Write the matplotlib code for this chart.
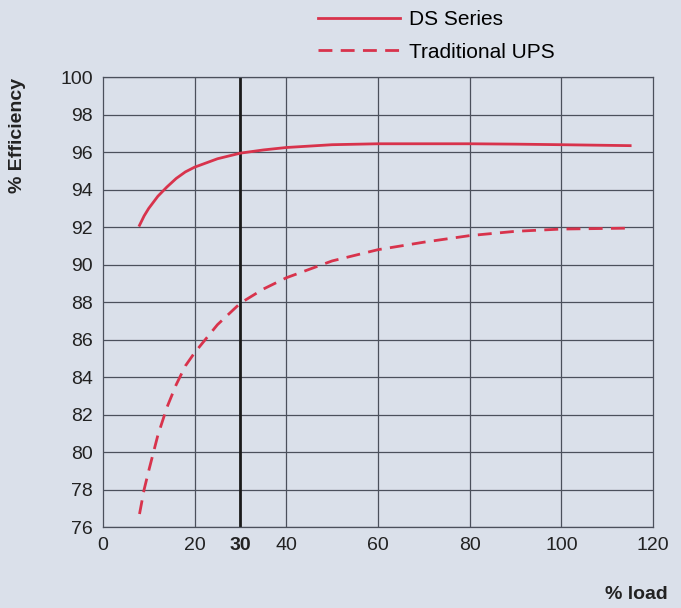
import matplotlib.pyplot as plt
from matplotlib.lines import Line2D

# data
load = [8, 9, 10, 12, 14, 16, 18, 20, 25, 30, 35, 40, 50, 60, 70, 80, 90, 100, 115]
ds_series = [92.1, 92.6, 93.0, 93.65, 94.15, 94.6, 94.95, 95.2, 95.65, 95.95, 96.12, 96.25, 96.4, 96.45, 96.45, 96.45, 96.43, 96.4, 96.35]
traditional = [76.7, 78.0, 79.0, 80.9, 82.4, 83.6, 84.6, 85.3, 86.8, 87.95, 88.7, 89.3, 90.2, 90.8, 91.2, 91.55, 91.78, 91.9, 91.95]

x_ticks = [0, 20, 30, 40, 60, 80, 100, 120]
y_ticks = list(range(76, 101, 2))

bg = "#dae0ea"
red = "#d8334c"
grid = "#4b505c"

plt.rcParams['font.family'] = ['Liberation Sans', 'DejaVu Sans']

fig = plt.figure(figsize=(6.81, 6.08), dpi=100, facecolor=bg)
ax = fig.add_axes([0.151, 0.133, 0.808, 0.740], facecolor=bg)

for t in [20, 40, 60, 80, 100]:
    ax.axvline(t, color=grid, lw=0.9, zorder=1)
for t in y_ticks:
    ax.axhline(t, color=grid, lw=0.9, zorder=1)
ax.axvline(30, color="#1a1a1a", lw=2.0, zorder=2)

ax.plot(load, ds_series, color=red, lw=2.0, zorder=3)
ax.plot(load, traditional, color=red, lw=2.0, ls=(0, (5, 3)), zorder=3)

ax.set_xlim(0, 120)
ax.set_ylim(76, 100)
ax.set_xticks(x_ticks)
ax.set_yticks(y_ticks)
ax.tick_params(length=0, labelsize=14, colors="#222222", pad=7)
for lab in ax.get_xticklabels():
    if lab.get_text() == "30":
        lab.set_fontweight("bold")
for s in ax.spines.values():
    s.set_color(grid)
    s.set_linewidth(0.9)

ax.set_ylabel("% Efficiency", fontsize=14, fontweight="bold", color="#222222")
ax.yaxis.set_label_coords(-0.14, 0.87)
fig.text(0.98, 0.015, "% load", fontsize=14, fontweight="bold", color="#222222", ha="right")

handles = [Line2D([0], [0], color=red, lw=2.0),
           Line2D([0], [0], color=red, lw=2.0, ls=(0, (5, 3)))]
fig.legend(handles, ["DS Series", "Traditional UPS"], loc="upper left",
           bbox_to_anchor=(0.44, 1.014), frameon=False, fontsize=15,
           handlelength=3.9, handletextpad=0.45, labelspacing=0.65)

plt.savefig("out.png", dpi=100, facecolor=bg)
